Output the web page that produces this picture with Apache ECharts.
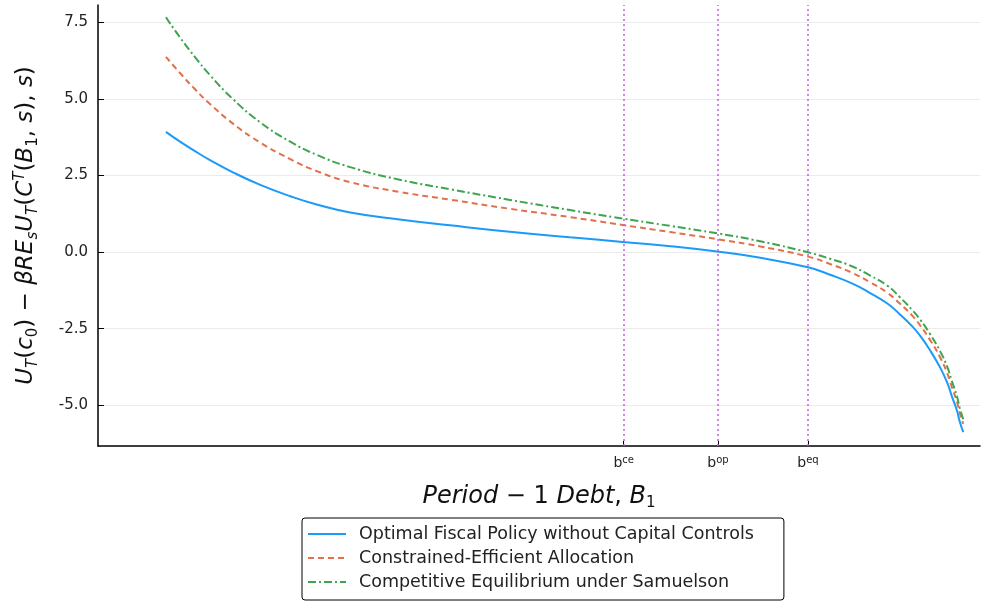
<!DOCTYPE html>
<html>
<head>
<meta charset="utf-8">
<script src="https://cdn.jsdelivr.net/npm/echarts@6/dist/echarts.min.js"></script>
<style>
  html, body { margin: 0; padding: 0; background: #fff; }
  #chart { width: 982px; height: 605px; }
</style>
</head>
<body>
<div id="chart"></div>
<script>
// Period-1 debt grid (normalised units)
const debt = [0.77, 0.93, 1.10, 1.27, 1.53, 1.84, 2.18, 2.48, 2.86, 3.42, 3.99, 4.67, 5.35, 5.95, 6.49, 7.04,
              7.51, 8.05, 8.30, 8.56, 8.75, 8.95, 9.09, 9.24, 9.32, 9.43, 9.55, 9.63, 9.68, 9.74, 9.77, 9.81];

// U_T(c0) - beta R E_s U_T(C^T(B1, s), s) for each allocation
const optimalNoControls = [3.92, 3.60, 3.29, 3.00, 2.60, 2.19, 1.82, 1.55, 1.29, 1.06, 0.87, 0.66, 0.48, 0.33, 0.19, 0.01,
                           -0.19, -0.50, -0.74, -1.04, -1.33, -1.68, -2.03, -2.45, -2.73, -3.19, -3.78, -4.28, -4.70, -5.19, -5.53, -5.88];
const constrainedEfficient = [6.37, 5.84, 5.31, 4.83, 4.19, 3.57, 3.03, 2.64, 2.28, 1.96, 1.71, 1.41, 1.14, 0.88, 0.65, 0.41,
                              0.18, -0.15, -0.39, -0.69, -0.98, -1.33, -1.68, -2.10, -2.39, -2.85, -3.45, -3.97, -4.40, -4.90, -5.25, -5.61];
const competitiveSamuelson = [7.66, 7.00, 6.36, 5.77, 4.99, 4.23, 3.60, 3.17, 2.77, 2.36, 2.05, 1.70, 1.37, 1.09, 0.85, 0.60,
                              0.35, -0.01, -0.22, -0.48, -0.76, -1.10, -1.47, -1.92, -2.20, -2.66, -3.25, -3.76, -4.20, -4.72, -5.08, -5.46];

// Threshold debt levels marked with vertical lines
const thresholdNames = ['ce', 'op', 'eq'];
const thresholdValues = [5.96, 7.03, 8.05];

// Y axis tick labels
const yTicks = [-5.0, -2.5, 0.0, 2.5, 5.0, 7.5];

const seriesNames = [
  'Optimal Fiscal Policy without Capital Controls',
  'Constrained-Efficient Allocation',
  'Competitive Equilibrium under Samuelson'
];

const FONT = 'DejaVu Sans';

function pairs(ys) {
  return debt.map((x, i) => [x, ys[i]]);
}

function mathRich(size) {
  const small = Math.round(size * 0.64);
  const shift = Math.round(size * 0.55);
  return {
    i: { fontFamily: FONT, fontStyle: 'italic', fontSize: size, color: '#111', lineHeight: size + 4, verticalAlign: 'middle' },
    n: { fontFamily: FONT, fontSize: size, color: '#111', lineHeight: size + 4, verticalAlign: 'middle' },
    sub: { fontFamily: FONT, fontStyle: 'italic', fontSize: small, color: '#111', lineHeight: small, padding: [shift, 0, 0, 0], verticalAlign: 'middle' },
    subn: { fontFamily: FONT, fontSize: small, color: '#111', lineHeight: small, padding: [shift, 0, 0, 0], verticalAlign: 'middle' },
    sup: { fontFamily: FONT, fontStyle: 'italic', fontSize: small, color: '#111', lineHeight: small, padding: [0, 0, shift, 0], verticalAlign: 'middle' }
  };
}

const chart = echarts.init(document.getElementById('chart'), null, { renderer: 'canvas' });

const option = {
  backgroundColor: '#fff',
  animation: false,
  grid: { left: 98, right: 2, top: 5, bottom: 159 },
  legend: {
    orient: 'vertical',
    left: 302,
    top: 518,
    data: seriesNames,
    itemWidth: 38,
    itemHeight: 18,
    itemGap: 6,
    padding: [7, 30, 9, 5],
    borderColor: '#000',
    borderWidth: 1,
    borderRadius: 3,
    itemStyle: { opacity: 0 },
    textStyle: { fontFamily: FONT, fontSize: 17.5, lineHeight: 18, color: '#222', padding: [0, 0, 0, 8] }
  },
  xAxis: {
    type: 'value',
    min: 0,
    max: 10,
    name: '{i|Period }{n|− 1 }{i|Debt}{n|, }{i|B}{subn|1}',
    nameLocation: 'middle',
    nameGap: 37,
    nameTextStyle: { rich: mathRich(24) },
    axisLine: { show: true, onZero: false, lineStyle: { color: '#000', width: 1.5 } },
    axisTick: { show: true, inside: true, length: 5, customValues: thresholdValues, lineStyle: { color: '#000' } },
    axisLabel: {
      customValues: thresholdValues,
      margin: 9,
      formatter: function (v) {
        let k = 0, best = Infinity;
        thresholdValues.forEach((t, i) => { if (Math.abs(t - v) < best) { best = Math.abs(t - v); k = i; } });
        return 'b{sup|' + thresholdNames[k] + '}';
      },
      fontFamily: FONT,
      fontSize: 14,
      color: '#222',
      rich: {
        sup: { fontFamily: FONT, fontSize: 10, color: '#222', padding: [0, 0, 7, 0] }
      }
    },
    splitLine: { show: false }
  },
  yAxis: {
    type: 'value',
    min: -6.33,
    max: 8.06,
    name: '{i|U}{sub|T}{n|(}{i|c}{subn|0}{n|) − }{i|βRE}{sub|s}{i|U}{sub|T}{n|(}{i|C}{sup|T}{n|(}{i|B}{subn|1}{n|, }{i|s}{n|), }{i|s}{n|)}',
    nameLocation: 'middle',
    nameRotate: 90,
    nameGap: 58,
    nameTextStyle: { rich: mathRich(23) },
    axisLine: { show: true, onZero: false, lineStyle: { color: '#000', width: 1.5 } },
    axisTick: { show: true, inside: true, length: 6, customValues: yTicks, lineStyle: { color: '#000' } },
    axisLabel: {
      customValues: yTicks,
      margin: 10,
      fontFamily: FONT,
      fontSize: 15,
      color: '#222',
      formatter: v => v.toFixed(1)
    },
    splitLine: { show: true, lineStyle: { color: '#ebebeb', width: 1 } }
  },
  series: [
    {
      name: seriesNames[0],
      type: 'line',
      data: pairs(optimalNoControls),
      smooth: 0.5,
      symbol: 'none',
      lineStyle: { color: '#1a9bfa', width: 2 },
      itemStyle: { color: '#1a9bfa' },
      markLine: {
        silent: true,
        symbol: 'none',
        label: { show: false },
        lineStyle: { color: '#c060dc', type: [2, 3], width: 1.5 },
        data: thresholdValues.map(v => ({ xAxis: v }))
      },
      z: 3
    },
    {
      name: seriesNames[1],
      type: 'line',
      data: pairs(constrainedEfficient),
      smooth: 0.5,
      symbol: 'none',
      lineStyle: { color: '#e3704a', width: 2, type: [6, 4] },
      itemStyle: { color: '#e3704a' },
      z: 3
    },
    {
      name: seriesNames[2],
      type: 'line',
      data: pairs(competitiveSamuelson),
      smooth: 0.5,
      symbol: 'none',
      lineStyle: { color: '#3ea44e', width: 2, type: [8, 3, 2, 3] },
      itemStyle: { color: '#3ea44e' },
      z: 3
    }
  ]
};

chart.setOption(option);
</script>
</body>
</html>
